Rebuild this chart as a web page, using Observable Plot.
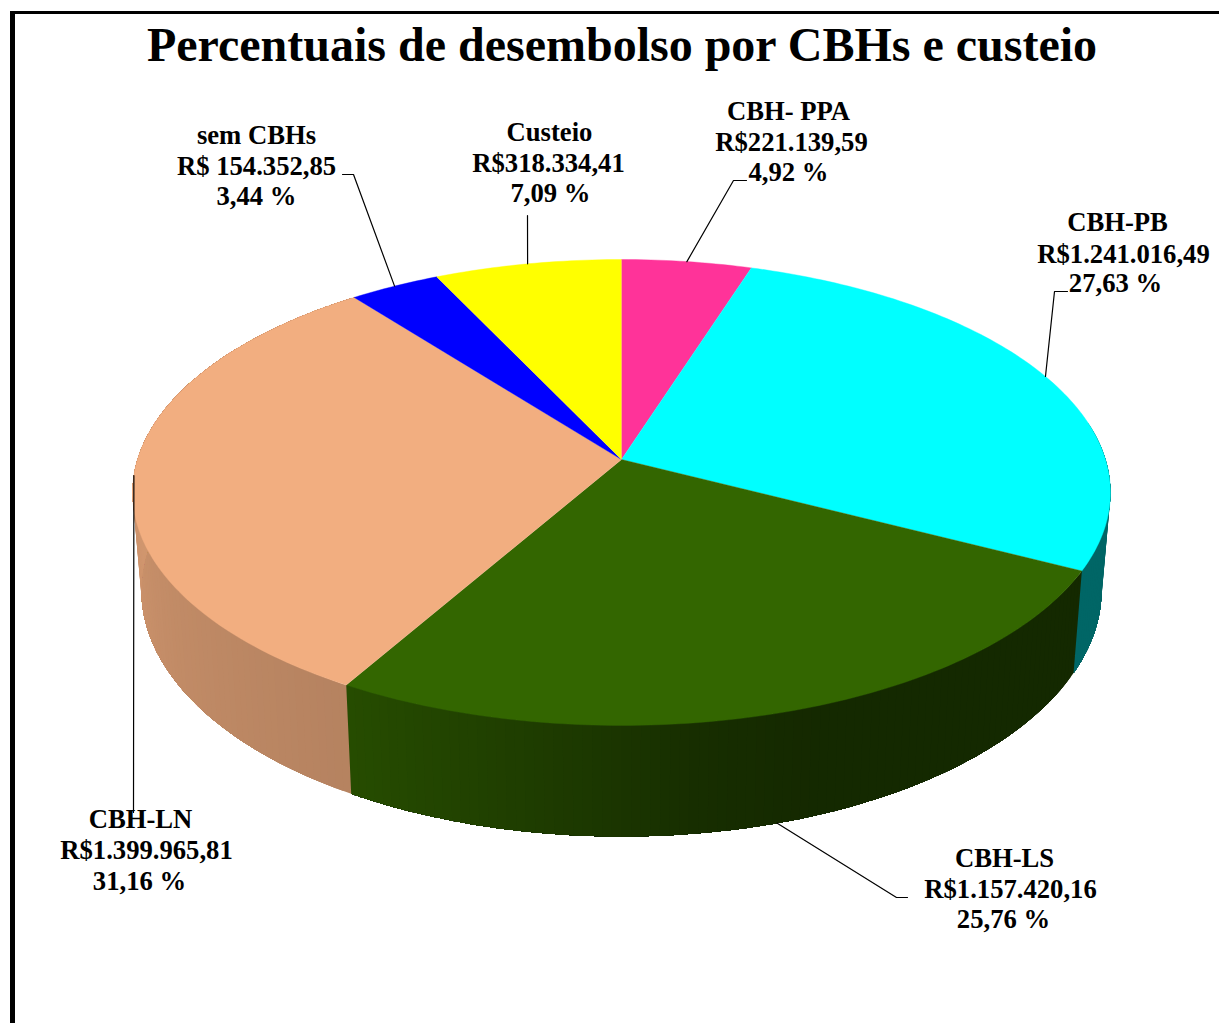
<!DOCTYPE html>
<html>
<head>
<meta charset="utf-8">
<script src="https://cdn.jsdelivr.net/npm/d3@7"></script>
<script src="https://cdn.jsdelivr.net/npm/@observablehq/plot@0.6"></script>
<style>
html,body{margin:0;padding:0;background:#fff;}
#frame{position:absolute;left:10px;top:11px;right:0;bottom:0;border-left:5px solid #000;border-top:3px solid #000;pointer-events:none;}
#chart{position:absolute;left:0;top:0;}
</style>
</head>
<body>
<div id="chart"></div>
<div id="frame"></div>
<script>
// ---- data, clockwise from twelve o'clock ----
const slices  = ["CBH- PPA", "CBH-PB", "CBH-LS", "CBH-LN", "sem CBHs", "Custeio"];
const amounts = [221139.59, 1241016.49, 1157420.16, 1399965.81, 154352.85, 318334.41];
const amountLabels  = ["R$221.139,59", "R$1.241.016,49", "R$1.157.420,16", "R$1.399.965,81", "R$ 154.352,85", "R$318.334,41"];
const percentLabels = ["4,92 %", "27,63 %", "25,76 %", "31,16 %", "3,44 %", "7,09 %"];
const colors = ["#ff3399", "#00ffff", "#336600", "#f2ae80", "#0000ff", "#ffff00"];
const title = "Percentuais de desembolso por CBHs e custeio";

// ---- view of the tilted disc ----
const centerPx = [621, 459], radiusPx = [484, 228.3];
const perspective = 0.1416, rimScaleX = 0.982, rimScaleY = 1.058, rimDrop = 95.6;
// side-wall brightness by clock angle
const shadeAngles = [0, 90, 160, 172, 184, 195, 210, 240, 268, 360];
const shadeValues = [0.40, 0.40, 0.40, 0.45, 0.55, 0.64, 0.75, 0.80, 0.86, 0.86];
const shade = d3.scaleLinear(shadeAngles, shadeValues);
const wallVisible = [80, 280];

// ---- label layout in page pixels ----
const labelCenters = [[788, 791, 788], [1117, 1123, 1115], [1004, 1010, 1003], [140, 146, 139], [256, 256, 256], [549, 548, 550]];
const labelBaselines = [[119, 150, 180], [230, 262, 291], [866, 897, 927], [827, 858, 889], [143, 174, 204], [140, 171, 201]];
const leaderBends = [[[733, 180], [746, 180]], [[1054, 291], [1067, 291]], [[896, 897], [907, 897]], [[133, 812]], [[353, 174], [342, 174]], [[527, 215]]];
const leaderOnRim = [false, false, true, false, false, false];

const toX = px => (px - centerPx[0]) / radiusPx[0];
const toY = py => (centerPx[1] - py) / radiusPx[1];
const rad = Math.PI / 180;

function project(theta) {
  const d = 1 + perspective * Math.cos(theta);
  return [Math.sin(theta) / d, Math.cos(theta) / d];
}
function rim([x, y]) {
  return [rimScaleX * x, rimScaleY * y - rimDrop / radiusPx[1]];
}

const arcs = d3.pie().sort(null)(amounts);
const faces = [], walls = [], leaders = [], labels = [];
arcs.forEach((a, i) => {
  const steps = Math.ceil((a.endAngle - a.startAngle) / rad);
  const angleAt = k => a.startAngle + (a.endAngle - a.startAngle) * k / steps;
  faces.push({id: i, x: 0, y: 0, color: colors[i]});
  for (let k = 0; k <= steps; k++) {
    const [x, y] = project(angleAt(k));
    faces.push({id: i, x, y, color: colors[i]});
  }
  const c = d3.rgb(colors[i]);
  // each strip reaches to the slice's far end, so the next one paints over it without a seam
  for (let k = 0; k < steps; k++) {
    const mid = angleAt(k + 0.5) / rad;
    if (mid < wallVisible[0] || mid > wallVisible[1]) continue;
    const s = shade(mid);
    const color = d3.rgb(c.r * s, c.g * s, c.b * s).formatHex();
    const id = `${i}-${k}`;
    const top = [];
    for (let m = k; m <= steps; m++) top.push(project(angleAt(m)));
    [...top, ...top.map(rim).reverse()].forEach(([x, y]) => walls.push({id, x, y, color}));
  }
  const mid = (a.startAngle + a.endAngle) / 2;
  const anchor = leaderOnRim[i] ? rim(project(mid)) : project(mid);
  leaders.push({id: i, x: anchor[0], y: anchor[1]});
  leaderBends[i].forEach(([px, py]) => leaders.push({id: i, x: toX(px), y: toY(py)}));
  [slices[i], amountLabels[i], percentLabels[i]].forEach((text, j) => {
    labels.push({text, x: toX(labelCenters[i][j]), y: toY(labelBaselines[i][j])});
  });
});

const serif = "'Liberation Serif','Times New Roman',serif";
const plot = Plot.plot({
  width: 1219, height: 1023,
  margin: 0,
  style: {background: "transparent", display: "block"},
  x: {domain: [-1, 1], range: [centerPx[0] - radiusPx[0], centerPx[0] + radiusPx[0]], axis: null},
  y: {domain: [-1, 1], range: [centerPx[1] + radiusPx[1], centerPx[1] - radiusPx[1]], axis: null},
  color: {type: "identity"},
  marks: [
    Plot.line(walls, {x: "x", y: "y", z: "id", fill: "color", stroke: "none"}),
    Plot.line(faces, {x: "x", y: "y", z: "id", fill: "color", stroke: "color", strokeWidth: 0.4}),
    Plot.line(leaders, {x: "x", y: "y", z: "id", stroke: "#000", strokeWidth: 1.2}),
    Plot.text(labels, {x: "x", y: "y", text: "text", fontFamily: serif, fontWeight: "bold", fontSize: 26.67, fill: "#000", lineAnchor: "bottom", textAnchor: "middle"}),
    Plot.text([title], {x: [toX(621.5)], y: [toY(60.5)], text: d => d, fontFamily: serif, fontWeight: "bold", fontSize: 48, fill: "#000", lineAnchor: "bottom", textAnchor: "middle"})
  ]
});
document.getElementById("chart").append(plot);
</script>
</body>
</html>
